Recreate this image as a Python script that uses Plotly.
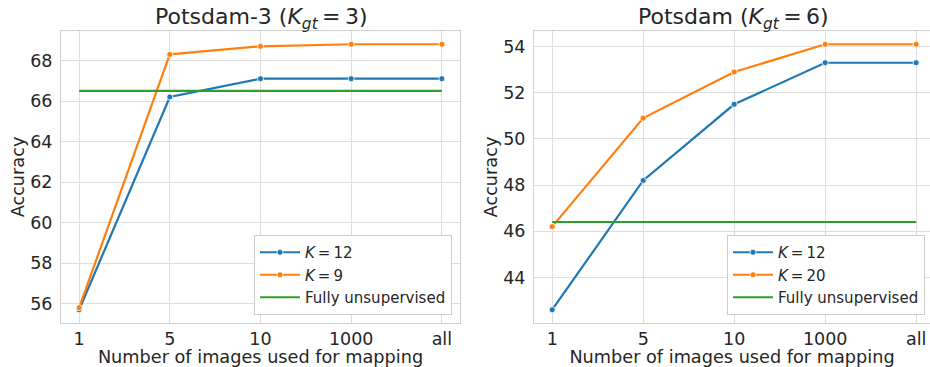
import plotly.graph_objects as go

categories = ["1", "5", "10", "1000", "all"]

# Left panel: Potsdam-3
left_k12 = [55.7, 66.2, 67.1, 67.1, 67.1]
left_k9 = [55.8, 68.3, 68.7, 68.8, 68.8]
left_fu = [66.5, 66.5, 66.5, 66.5, 66.5]

# Right panel: Potsdam
right_k12 = [42.6, 48.2, 51.5, 53.3, 53.3]
right_k20 = [46.2, 50.9, 52.9, 54.1, 54.1]
right_fu = [46.4, 46.4, 46.4, 46.4, 46.4]

left_ticks = [56, 58, 60, 62, 64, 66, 68]
right_ticks = [44, 46, 48, 50, 52, 54]

BLUE = "#1f77b4"
ORANGE = "#ff7f0e"
GREEN = "#2ca02c"
TXT = "#262626"
GRID = "#dedede"
FONT = "DejaVu Sans"
TS = "\u2009"  # thin space, like matplotlib mathtext

fig = go.Figure()

def add_series(y, name, color, xa, ya, leg, markers=True):
    fig.add_trace(go.Scatter(
        x=categories, y=y, name=name, xaxis=xa, yaxis=ya, legend=leg,
        mode="lines+markers" if markers else "lines",
        line=dict(color=color, width=2.2),
        marker=dict(size=6, color=color, line=dict(color="white", width=0.8)),
    ))

add_series(left_k12, f"<i>K</i>{TS}={TS}12", BLUE, "x", "y", "legend")
add_series(left_k9, f"<i>K</i>{TS}={TS}9", ORANGE, "x", "y", "legend")
add_series(left_fu, "Fully unsupervised", GREEN, "x", "y", "legend", markers=False)
add_series(right_k12, f"<i>K</i>{TS}={TS}12", BLUE, "x2", "y2", "legend2")
add_series(right_k20, f"<i>K</i>{TS}={TS}20", ORANGE, "x2", "y2", "legend2")
add_series(right_fu, "Fully unsupervised", GREEN, "x2", "y2", "legend2", markers=False)

W, H = 930, 367
ydom = [1 - 323 / H, 1 - 31 / H]

axis_common = dict(
    showgrid=True, gridcolor=GRID, gridwidth=1,
    showline=True, linecolor="#d0d0d0", linewidth=1, mirror=True,
    zeroline=False, ticks="", tickfont=dict(size=17.5, color=TXT, family=FONT),
)

def xtitle():
    return dict(text="Number of images used for mapping", font=dict(size=17.7, color=TXT, family=FONT), standoff=5)

def ytitle():
    return dict(text="Accuracy", font=dict(size=17.7, color=TXT, family=FONT), standoff=1)

legend_common = dict(
    xanchor="right", yanchor="bottom",
    bgcolor="white", bordercolor="#cccccc", borderwidth=1,
    font=dict(size=15, color=TXT, family=FONT), itemwidth=40, tracegroupgap=0,
)

fig.update_layout(
    width=W, height=H,
    margin=dict(l=0, r=0, t=0, b=0),
    paper_bgcolor="white", plot_bgcolor="white",
    font=dict(family=FONT, color=TXT),
    xaxis=dict(domain=[61 / W, 460 / W], type="category", range=[-0.2, 4.2],
               title=xtitle(), anchor="y", **axis_common),
    yaxis=dict(domain=ydom, range=[55.045, 69.455], tickvals=left_ticks,
               title=ytitle(), anchor="x", ticklabelstandoff=4, **axis_common),
    xaxis2=dict(domain=[534 / W, 1.0], type="category", range=[-0.2, 4.152],
                title=xtitle(), anchor="y2", **axis_common),
    yaxis2=dict(domain=ydom, range=[42.025, 54.675], tickvals=right_ticks,
                title=ytitle(), anchor="x2", ticklabelstandoff=4, **axis_common),
    legend=dict(x=452 / W, y=1 - 315 / H, **legend_common),
    legend2=dict(x=925 / W, y=1 - 315 / H, **legend_common),
    showlegend=True,
    annotations=[
        dict(text=f"Potsdam-3 (<i>K<sub>gt</sub></i>{TS}={TS}3)", x=(61 + 460) / 2 / W, y=1 - 19 / H,
             xref="paper", yref="paper", showarrow=False, xanchor="center", yanchor="middle",
             font=dict(size=22, color=TXT, family=FONT)),
        dict(text=f"Potsdam (<i>K<sub>gt</sub></i>{TS}={TS}6)", x=(534 + 932) / 2 / W, y=1 - 19 / H,
             xref="paper", yref="paper", showarrow=False, xanchor="center", yanchor="middle",
             font=dict(size=22, color=TXT, family=FONT)),
    ],
)

fig.write_html(
    "out.html",
    config={"displayModeBar": False},
    post_script="document.body.style.margin='0';document.body.style.overflow='hidden';",
)
